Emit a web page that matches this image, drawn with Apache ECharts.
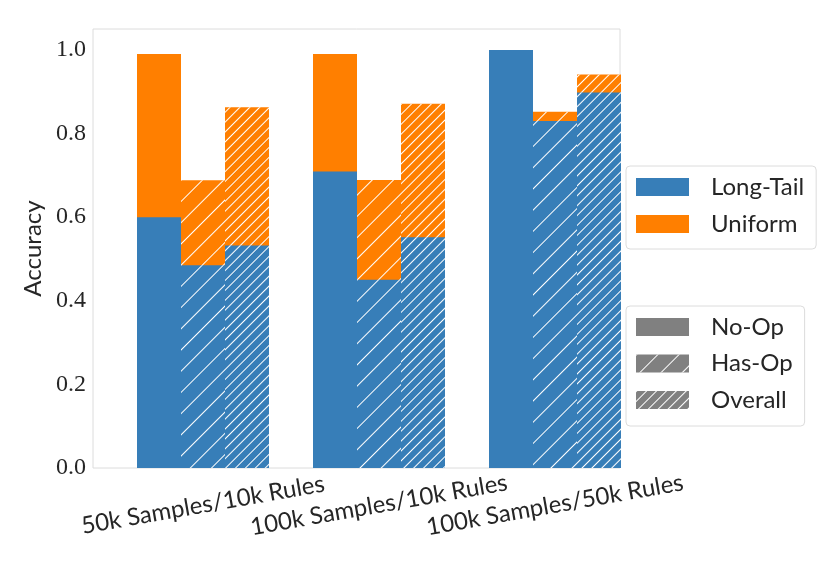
<!DOCTYPE html>
<html><head><meta charset="utf-8">
<script src="https://cdn.jsdelivr.net/npm/echarts@6/dist/echarts.min.js"></script>
<style>html,body{margin:0;padding:0;background:#fff}#c{width:830px;height:575px}</style>
</head><body><div id="c"></div>
<script>
const categories = ['50k Samples/10k Rules', '100k Samples/10k Rules', '100k Samples/50k Rules'];
const longTailNoOp    = [0.600, 0.709, 1.000];
const longTailHasOp   = [0.485, 0.450, 0.830];
const longTailOverall = [0.532, 0.552, 0.898];
const uniformNoOp     = [0.990, 0.990, 1.000];
const uniformHasOp    = [0.688, 0.689, 0.852];
const uniformOverall  = [0.863, 0.871, 0.941];
const yMin = 0, yMax = 1.05, yInterval = 0.2;

const BLUE = '#377eb8', ORANGE = '#ff7f00', GRAY = '#808080';
const SANS = 'Lato, "Open Sans", sans-serif';
const SERIF = '"Liberation Serif", "DejaVu Serif", serif';
const hatchSparse = { symbol: 'rect', symbolSize: 1, color: '#ffffff', dashArrayX: [1, 0], dashArrayY: [1, 14], rotation: -Math.PI / 4 };
const hatchDense  = { symbol: 'rect', symbolSize: 1, color: '#ffffff', dashArrayX: [1, 0], dashArrayY: [1, 6], rotation: -Math.PI / 4 };

function bar(name, data, color, decal, xIdx, yIdx, z) {
  const s = { type: 'bar', name, data, xAxisIndex: xIdx, yAxisIndex: yIdx, barWidth: 44, barGap: '0%', z,
    itemStyle: { color, borderWidth: 0 }, silent: true };
  if (decal) s.itemStyle.decal = decal;
  return s;
}

const chart = echarts.init(document.getElementById('c'), null, { renderer: 'canvas' });
chart.setOption({
  animation: false,
  backgroundColor: '#fff',
  grid: [
    { left: 115, top: 29, width: 528, height: 439, show: false },
    { left: 93, top: 29, width: 527, height: 439, show: true, borderColor: '#dcdcdc', borderWidth: 1, backgroundColor: 'transparent' }
  ],
  xAxis: [
    { type: 'category', gridIndex: 0, data: categories, axisLine: { show: false }, axisTick: { show: false },
      axisLabel: { interval: 0, rotate: 10, align: 'center', verticalAlign: 'middle', margin: 37, fontSize: 24, fontFamily: SANS, color: '#262626' } },
    { type: 'category', gridIndex: 0, data: categories, show: false },
    { type: 'category', gridIndex: 1, data: categories, show: false }
  ],
  yAxis: [
    { type: 'value', gridIndex: 0, min: yMin, max: yMax, interval: yInterval, show: false },
    { type: 'value', gridIndex: 1, min: yMin, max: yMax, interval: yInterval,
      name: 'Accuracy', nameLocation: 'middle', nameGap: 40,
      nameTextStyle: { fontSize: 24, fontFamily: SANS, color: '#262626' },
      axisLine: { show: false }, axisTick: { show: false }, splitLine: { show: false },
      axisLabel: { showMaxLabel: false, margin: 7, fontSize: 24, fontFamily: SERIF, color: '#262626', formatter: v => v.toFixed(1) } }
  ],
  legend: [
    { data: ['Long-Tail', 'Uniform'], orient: 'vertical', left: 626, top: 166, itemWidth: 53, itemHeight: 18, itemGap: 13,
      padding: [9, 12, 13, 10], borderColor: '#dcdcdc', borderWidth: 1, borderRadius: 4, icon: 'rect', selectedMode: false,
      textStyle: { fontSize: 24, fontFamily: SANS, color: '#262626', padding: [0, 0, 0, 17] } },
    { data: ['No-Op', 'Has-Op', 'Overall'], orient: 'vertical', left: 626, top: 306, itemWidth: 53, itemHeight: 18, itemGap: 12.5,
      padding: [9, 12, 14, 10], borderColor: '#dcdcdc', borderWidth: 1, borderRadius: 4, icon: 'rect', selectedMode: false,
      textStyle: { fontSize: 24, fontFamily: SANS, color: '#262626', padding: [0, 0, 0, 17] } }
  ],
  series: [
    bar('Uniform', uniformNoOp, ORANGE, null, 0, 0, 2),
    bar('Uniform', uniformHasOp, ORANGE, hatchSparse, 0, 0, 2),
    bar('Uniform', uniformOverall, ORANGE, hatchDense, 0, 0, 2),
    bar('Long-Tail', longTailNoOp, BLUE, null, 1, 0, 3),
    bar('Long-Tail', longTailHasOp, BLUE, hatchSparse, 1, 0, 3),
    bar('Long-Tail', longTailOverall, BLUE, hatchDense, 1, 0, 3),
    bar('No-Op', [], GRAY, null, 2, 1, 2),
    bar('Has-Op', [], GRAY, hatchSparse, 2, 1, 2),
    bar('Overall', [], GRAY, hatchDense, 2, 1, 2)
  ]
});
</script>
</body></html>
